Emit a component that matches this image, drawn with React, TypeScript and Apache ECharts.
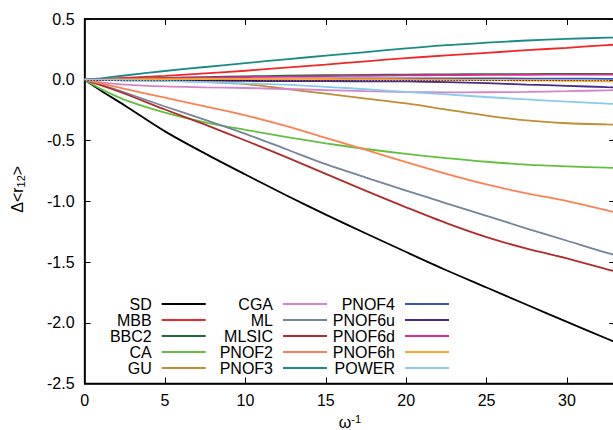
import React, { useEffect, useRef } from "react";
import * as echarts from "echarts";

// abscissa: inverse confinement strength
const omegaInv = [0, 1, 2.5, 5, 7.5, 10, 12.5, 15, 17.5, 20, 22.5, 25, 27.5, 30, 32.5, 35];

const sd = [0, -0.088, -0.212, -0.425, -0.608, -0.78, -0.948, -1.11, -1.265, -1.418, -1.568, -1.71, -1.852, -1.993, -2.132, -2.27];
const mbb = [0, 0.006, 0.016, 0.032, 0.052, 0.074, 0.1, 0.125, 0.152, 0.178, 0.2, 0.222, 0.243, 0.263, 0.285, 0.305];
const bbc2 = [0, 0.003, 0.008, 0.016, 0.022, 0.028, 0.033, 0.037, 0.04, 0.043, 0.045, 0.046, 0.047, 0.048, 0.049, 0.05];
const ca = [0, -0.075, -0.165, -0.27, -0.35, -0.412, -0.47, -0.523, -0.57, -0.61, -0.645, -0.675, -0.698, -0.713, -0.724, -0.73];
const gu = [0, -0.001, -0.002, -0.006, -0.018, -0.035, -0.075, -0.115, -0.155, -0.195, -0.245, -0.295, -0.335, -0.358, -0.368, -0.375];
const cga = [0, -0.022, -0.04, -0.055, -0.062, -0.068, -0.076, -0.085, -0.094, -0.101, -0.104, -0.103, -0.1, -0.094, -0.087, -0.08];
const ml = [0, -0.04, -0.105, -0.22, -0.33, -0.445, -0.57, -0.695, -0.805, -0.912, -1.017, -1.12, -1.225, -1.325, -1.425, -1.51];
const mlsic = [0, -0.045, -0.115, -0.245, -0.37, -0.5, -0.635, -0.775, -0.915, -1.05, -1.18, -1.295, -1.39, -1.47, -1.56, -1.64];
const pnof2 = [0, -0.03, -0.075, -0.148, -0.22, -0.293, -0.38, -0.478, -0.578, -0.678, -0.775, -0.862, -0.935, -0.998, -1.075, -1.16];
const pnof3 = [0, 0.012, 0.035, 0.072, 0.105, 0.137, 0.168, 0.198, 0.228, 0.258, 0.285, 0.305, 0.323, 0.336, 0.346, 0.352];
const pnof4 = [0, 0.001, 0.003, 0.005, 0.007, 0.009, 0.01, 0.011, 0.012, 0.012, 0.012, 0.011, 0.01, 0.009, 0.008, 0.007];
const pnof6u = [0, -0.002, -0.004, -0.006, -0.008, -0.01, -0.011, -0.012, -0.013, -0.014, -0.02, -0.028, -0.04, -0.05, -0.061, -0.07];
const pnof6d = [0, 0.002, 0.006, 0.012, 0.017, 0.022, 0.026, 0.03, 0.033, 0.036, 0.038, 0.04, 0.041, 0.042, 0.043, 0.044];
const pnof6h = [0, 0.001, 0.003, 0.005, 0.006, 0.007, 0.007, 0.006, 0.005, 0.003, 0, -0.003, -0.006, -0.009, -0.013, -0.017];
const power = [0, -0.001, -0.004, -0.01, -0.019, -0.03, -0.04, -0.058, -0.078, -0.1, -0.121, -0.142, -0.162, -0.18, -0.197, -0.212];

const seriesNames = [
  "SD", "MBB", "BBC2", "CA", "GU",
  "CGA", "ML", "MLSIC", "PNOF2", "PNOF3",
  "PNOF4", "PNOF6u", "PNOF6d", "PNOF6h", "POWER",
];
const seriesValues = [sd, mbb, bbc2, ca, gu, cga, ml, mlsic, pnof2, pnof3, pnof4, pnof6u, pnof6d, pnof6h, power];
const seriesColors = [
  "#000000", "#f02828", "#1c6b3c", "#62c040", "#c08c34",
  "#d684c8", "#74849a", "#b02c2c", "#ff8050", "#1a8a88",
  "#3454c0", "#4a2a88", "#d8308c", "#ffa428", "#88ccec",
];

const legendColumns = [
  seriesNames.slice(0, 5),
  seriesNames.slice(5, 10),
  seriesNames.slice(10, 15),
];

const xTicks = { min: 0, max: 33, interval: 5 };
const yTicks = { min: -2.5, max: 0.5, interval: 0.5 };

const FONT = "'Liberation Sans', Arial, Helvetica, sans-serif";

export default function App() {
  const ref = useRef<HTMLDivElement>(null);

  useEffect(() => {
    if (!ref.current) return;
    const chart = echarts.init(ref.current, null, { renderer: "svg" });

    const series = seriesNames.map((name, i) => {
      const s: any = {
        name,
        type: "line",
        data: omegaInv.map((x, k) => [x, seriesValues[i][k]]),
        symbol: "none",
        smooth: 0.3,
        lineStyle: { width: 1.8, color: seriesColors[i] },
        itemStyle: { color: seriesColors[i] },
        clip: true,
      };
      if (i === seriesNames.length - 1) {
        // dotted zero line drawn above all curves
        s.markLine = {
          silent: true,
          symbol: "none",
          label: { show: false },
          lineStyle: { color: "#000", type: [1, 2], width: 1 },
          data: [{ yAxis: 0 }],
        };
      }
      return s;
    });

    const legendLefts = [81.7, 203, 325];
    const legends = legendColumns.map((col, c) => ({
      data: col,
      orient: "vertical",
      left: legendLefts[c],
      top: 296,
      align: "right",
      padding: 0,
      itemGap: 0,
      itemWidth: 44,
      itemHeight: 2,
      icon: "rect",
      selectedMode: false,
      textStyle: {
        fontSize: 16,
        fontFamily: FONT,
        color: "#000",
        width: 70,
        align: "right",
        lineHeight: 16,
        padding: [0, 5, 0, 0],
      },
    }));

    const axisLine = { show: true, onZero: false, lineStyle: { color: "#000", width: 1.5 } };
    const axisTick = { show: true, inside: true, length: 6, lineStyle: { color: "#000", width: 1 } };

    chart.setOption({
      animation: false,
      backgroundColor: "#fff",
      textStyle: { fontFamily: FONT },
      grid: {
        left: 84.6,
        right: 14.8,
        top: 19,
        bottom: 46.5,
        containLabel: false,
        outerBoundsMode: "none",
        show: true,
        borderColor: "#000",
        borderWidth: 1.5,
        backgroundColor: "transparent",
      },
      legend: legends,
      xAxis: [
        {
          type: "value",
          position: "bottom",
          ...xTicks,
          axisLine,
          axisTick,
          splitLine: { show: false },
          axisLabel: { fontSize: 16, color: "#000", margin: 9, showMaxLabel: false, fontFamily: FONT },
          name: "{w|ω}{sup|-1}",
          nameLocation: "middle",
          nameGap: 27,
          nameTextStyle: {
            fontFamily: FONT,
            color: "#000",
            lineHeight: 16,
            rich: {
              w: { fontSize: 16, lineHeight: 16, fontFamily: FONT, color: "#000" },
              sup: { fontSize: 11, lineHeight: 11, fontFamily: FONT, color: "#000", padding: [0, 0, 7, 0] },
            },
          },
        },
        {
          type: "value",
          position: "top",
          ...xTicks,
          axisLine,
          axisTick,
          splitLine: { show: false },
          axisLabel: { show: false },
        },
      ],
      yAxis: [
        {
          type: "value",
          position: "left",
          ...yTicks,
          axisLine,
          axisTick,
          splitLine: { show: false },
          axisLabel: {
            fontSize: 16,
            color: "#000",
            margin: 10,
            fontFamily: FONT,
            formatter: (v: number) => v.toFixed(1),
          },
          name: "{n|Δ<r}{sub|12}{n|>}",
          nameLocation: "middle",
          nameGap: 58,
          nameTextStyle: {
            fontFamily: FONT,
            color: "#000",
            padding: [0, 0, 0, 24],
            rich: {
              n: { fontSize: 16, fontFamily: FONT, color: "#000" },
              sub: { fontSize: 11, fontFamily: FONT, color: "#000", padding: [8, 0, 0, 0] },
            },
          },
        },
        {
          type: "value",
          position: "right",
          ...yTicks,
          axisLine,
          axisTick,
          splitLine: { show: false },
          axisLabel: { show: false },
        },
      ],
      series,
    });

    return () => chart.dispose();
  }, []);

  return (
    <div
      style={{
        position: "fixed",
        left: 0,
        top: 0,
        width: 613,
        height: 430,
        overflow: "hidden",
        background: "#fff",
      }}
    >
      <div ref={ref} style={{ width: 630, height: 430 }} />
    </div>
  );
}
